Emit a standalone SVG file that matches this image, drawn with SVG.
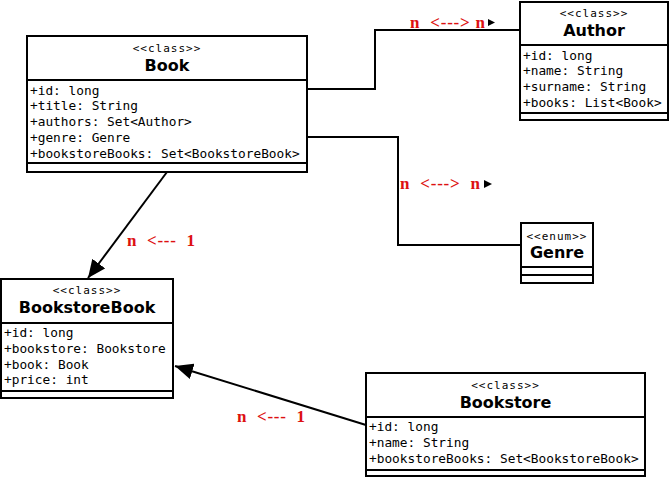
<svg xmlns="http://www.w3.org/2000/svg" width="671" height="479" viewBox="0 0 671 479">
<style>
.box{fill:#fff;stroke:#000;stroke-width:2}
.sep{stroke:#000;stroke-width:2}
.st{font-family:"DejaVu Sans Mono",monospace;font-size:11px;letter-spacing:1px;text-anchor:middle}
.ttl{font-family:"DejaVu Sans",sans-serif;font-weight:bold;font-size:16px;text-anchor:middle}
.at{font-family:"DejaVu Sans Mono",monospace;font-size:12.8px}
.con{fill:none;stroke:#000;stroke-width:2}
.lbl{font-family:"Liberation Serif",serif;font-weight:bold;font-size:17px;fill:#dd1111}
</style>
<defs>
<marker id="arr" markerUnits="userSpaceOnUse" markerWidth="20" markerHeight="16" refX="18" refY="8" orient="auto">
<path d="M0,0 L18,8 L0,16 z" fill="#000"/>
</marker>
</defs>
<rect width="671" height="479" fill="#fff"/>
<g id="connectors">
<polyline class="con" points="307,89 375,89 375,30 520,30"/>
<polyline class="con" points="307,137 398,137 398,245 521,245"/>
<line class="con" x1="167" y1="172" x2="88" y2="278" marker-end="url(#arr)"/>
<line class="con" x1="366" y1="425" x2="175" y2="366" marker-end="url(#arr)"/>
<polygon points="488,19 495,22.5 488,26" fill="#000"/>
<polygon points="484,180 492,184 484,188" fill="#000"/>
<text class="lbl" x="410" y="27.5" textLength="75" lengthAdjust="spacing" xml:space="preserve">n  &lt;---&gt; n</text>
<text class="lbl" x="400" y="188.5" textLength="80" lengthAdjust="spacing" xml:space="preserve">n  &lt;---&gt;  n</text>
<text class="lbl" x="127" y="246" textLength="68" lengthAdjust="spacing" xml:space="preserve">n  &lt;---  1</text>
<text class="lbl" x="237" y="422" textLength="68" lengthAdjust="spacing" xml:space="preserve">n  &lt;---  1</text>
</g>
<g id="Book">
<rect class="box" x="27" y="36" width="280" height="136"/>
<line class="sep" x1="27" y1="80" x2="307" y2="80"/>
<line class="sep" x1="27" y1="163" x2="307" y2="163"/>
<text class="st" x="167" y="52">&lt;&lt;class&gt;&gt;</text>
<text class="ttl" x="167" y="71">Book</text>
<text class="at" x="30" y="94.5">+id: long</text>
<text class="at" x="30" y="110.3">+title: String</text>
<text class="at" x="30" y="126.1">+authors: Set&lt;Author&gt;</text>
<text class="at" x="30" y="141.9">+genre: Genre</text>
<text class="at" x="30" y="157.7">+bookstoreBooks: Set&lt;BookstoreBook&gt;</text>
</g>
<g id="Author">
<rect class="box" x="520" y="2" width="148" height="118"/>
<line class="sep" x1="520" y1="45" x2="668" y2="45"/>
<line class="sep" x1="520" y1="113" x2="668" y2="113"/>
<text class="st" x="594" y="17">&lt;&lt;class&gt;&gt;</text>
<text class="ttl" x="594" y="36">Author</text>
<text class="at" x="523" y="59.5">+id: long</text>
<text class="at" x="523" y="75.3">+name: String</text>
<text class="at" x="523" y="91.1">+surname: String</text>
<text class="at" x="523" y="106.9">+books: List&lt;Book&gt;</text>
</g>
<g id="Genre">
<rect class="box" x="521" y="223" width="72" height="60"/>
<line class="sep" x1="521" y1="267" x2="593" y2="267"/>
<line class="sep" x1="521" y1="275" x2="593" y2="275"/>
<text class="st" x="557" y="240">&lt;&lt;enum&gt;&gt;</text>
<text class="ttl" x="557" y="258">Genre</text>
</g>
<g id="BookstoreBook">
<rect class="box" x="1" y="279" width="172" height="119"/>
<line class="sep" x1="1" y1="323" x2="173" y2="323"/>
<line class="sep" x1="1" y1="391" x2="173" y2="391"/>
<text class="st" x="87" y="294">&lt;&lt;class&gt;&gt;</text>
<text class="ttl" x="87" y="313">BookstoreBook</text>
<text class="at" x="4" y="337">+id: long</text>
<text class="at" x="4" y="352.8">+bookstore: Bookstore</text>
<text class="at" x="4" y="368.6">+book: Book</text>
<text class="at" x="4" y="384.4">+price: int</text>
</g>
<g id="Bookstore">
<rect class="box" x="366" y="373" width="279" height="103"/>
<line class="sep" x1="366" y1="417" x2="645" y2="417"/>
<line class="sep" x1="366" y1="470" x2="645" y2="470"/>
<text class="st" x="505.5" y="389">&lt;&lt;class&gt;&gt;</text>
<text class="ttl" x="505.5" y="408">Bookstore</text>
<text class="at" x="369" y="431">+id: long</text>
<text class="at" x="369" y="446.8">+name: String</text>
<text class="at" x="369" y="462.6">+bookstoreBooks: Set&lt;BookstoreBook&gt;</text>
</g>
</svg>
